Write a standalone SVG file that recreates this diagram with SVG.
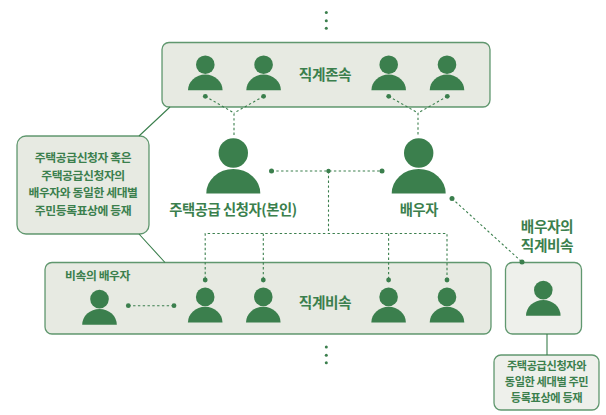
<svg xmlns="http://www.w3.org/2000/svg" xmlns:xlink="http://www.w3.org/1999/xlink" width="606" height="415" viewBox="0 0 606 415">
<style>
text{font-family:"Noto Sans CJK KR","Noto Sans",sans-serif;fill:#3b7f4d;font-weight:700;text-anchor:middle;letter-spacing:-.4px}
.box{fill:#e7eae2;stroke:#3b7f4d;stroke-width:1.3;stroke-opacity:.8}
.lite{fill:#eef0eb}
.dash{fill:none;stroke:#3b7f4d;stroke-width:1.1;stroke-dasharray:2.4 2.4}
.solid{fill:none;stroke:#3b7f4d;stroke-width:1.1}
.dot{fill:#3b7f4d}
.p{fill:#3b7f4d}
.s{font-size:11.8px}
.r{font-size:11.2px}
.m{font-size:14.7px}
.l{font-size:14.3px}
</style>
<defs>
<g id="small"><circle class="p" cx="0" cy="-25.6" r="9.3"/><path class="p" d="M-17.3 0A17.3 15.7 0 0 1 17.3 0Z"/></g>
<g id="big"><circle class="p" cx="0" cy="-40.5" r="14.7"/><path class="p" d="M-27 0A27 24.5 0 0 1 27 0Z"/></g>
</defs>
<g id="node-ascendants">
<rect class="box" x="162" y="42.5" width="328" height="64.5" rx="7"/>
<use xlink:href="#small" href="#small" x="205.3" y="90.3"/>
<use xlink:href="#small" href="#small" x="263.6" y="90.3"/>
<use xlink:href="#small" href="#small" x="388.7" y="90.3"/>
<use xlink:href="#small" href="#small" x="447" y="90.3"/>
<text class="m" x="325" y="80">직계존속</text>
<g class="dot"><circle cx="205.3" cy="96.3" r="2.4"/><circle cx="263.6" cy="96.3" r="2.4"/><circle cx="388.7" cy="96.3" r="2.4"/><circle cx="447.3" cy="96.3" r="2.4"/></g>
</g>
<g id="node-note-left">
<rect class="box" x="17" y="136" width="132" height="98" rx="9"/>
<text class="s" x="83" y="162">주택공급신청자 혹은</text>
<text class="s" x="83" y="180">주택공급신청자의</text>
<text class="s" x="83" y="197">배우자와 동일한 세대별</text>
<text class="s" x="83" y="215">주민등록표상에 등재</text>
</g>
<g id="node-applicant">
<use xlink:href="#big" href="#big" x="233.3" y="193.5"/>
<text class="l" x="233" y="215">주택공급 신청자(본인)</text>
<circle class="dot" cx="271.5" cy="171" r="2.5"/>
</g>
<g id="node-spouse">
<use xlink:href="#big" href="#big" x="418.7" y="193.5"/>
<text class="l" x="419" y="215">배우자</text>
<circle class="dot" cx="382" cy="171" r="2.5"/>
<circle class="dot" cx="452" cy="198.5" r="2.5"/>
</g>
<g id="node-descendants">
<rect class="box" x="45" y="262.5" width="446" height="71.5" rx="7"/>
<text class="s" x="97.5" y="280">비속의 배우자</text>
<use xlink:href="#small" href="#small" x="99.5" y="324.7"/>
<use xlink:href="#small" href="#small" x="205.2" y="322.5"/>
<use xlink:href="#small" href="#small" x="263.3" y="322.5"/>
<use xlink:href="#small" href="#small" x="388.6" y="322.5"/>
<use xlink:href="#small" href="#small" x="447" y="322.5"/>
<text class="m" x="325" y="307.5">직계비속</text>
<g class="dot"><circle cx="128.3" cy="305.7" r="2.4"/><circle cx="174" cy="305.7" r="2.4"/><circle cx="205.2" cy="280" r="2.4"/><circle cx="263.3" cy="280" r="2.4"/><circle cx="388.6" cy="280" r="2.4"/><circle cx="447" cy="280" r="2.4"/></g>
</g>
<g id="node-spouse-descendant">
<rect class="box lite" x="505.5" y="262.5" width="76" height="71.5" rx="7"/>
<use xlink:href="#small" href="#small" x="543.3" y="315.7"/>
<text class="m" x="547" y="232">배우자의</text>
<text class="m" x="547" y="251">직계비속</text>
<circle class="dot" cx="522" cy="262" r="2.5"/>
</g>
<g id="node-note-right">
<rect class="box lite" x="494" y="355" width="105" height="55" rx="7"/>
<text class="r" x="546.5" y="370">주택공급신청자와</text>
<text class="r" x="546.5" y="386">동일한 세대별 주민</text>
<text class="r" x="546.5" y="402">등록표상에 등재</text>
</g>
<g id="connectors">
<path class="solid" d="M139 136L170 107M139 234L165 262.5M547 334V355"/>
<path class="dash" d="M205.3 96.3L234 113V136M263.6 96.3L234 113M388.7 96.3L418 113V136M447.3 96.3L418 113"/>
<path class="dash" d="M271.5 171H382"/>
<path class="dash" d="M328.5 171V233M205.2 279V233.5H447V279M263.3 233.5V279M388.6 233.5V279"/>
<path class="dash" d="M128.3 305.7H174"/>
<path class="dash" d="M452 198.5L522 262"/>
<circle class="dot" cx="328.5" cy="171" r="2.2"/>
</g>
<g id="ellipsis-top" class="dot"><circle cx="326.3" cy="12.5" r="1.5"/><circle cx="326.3" cy="20.7" r="1.5"/><circle cx="326.3" cy="28.3" r="1.5"/></g>
<g id="ellipsis-bottom" class="dot"><circle cx="326.3" cy="347" r="1.5"/><circle cx="326.3" cy="355.3" r="1.5"/><circle cx="326.3" cy="362.7" r="1.5"/></g>
</svg>
